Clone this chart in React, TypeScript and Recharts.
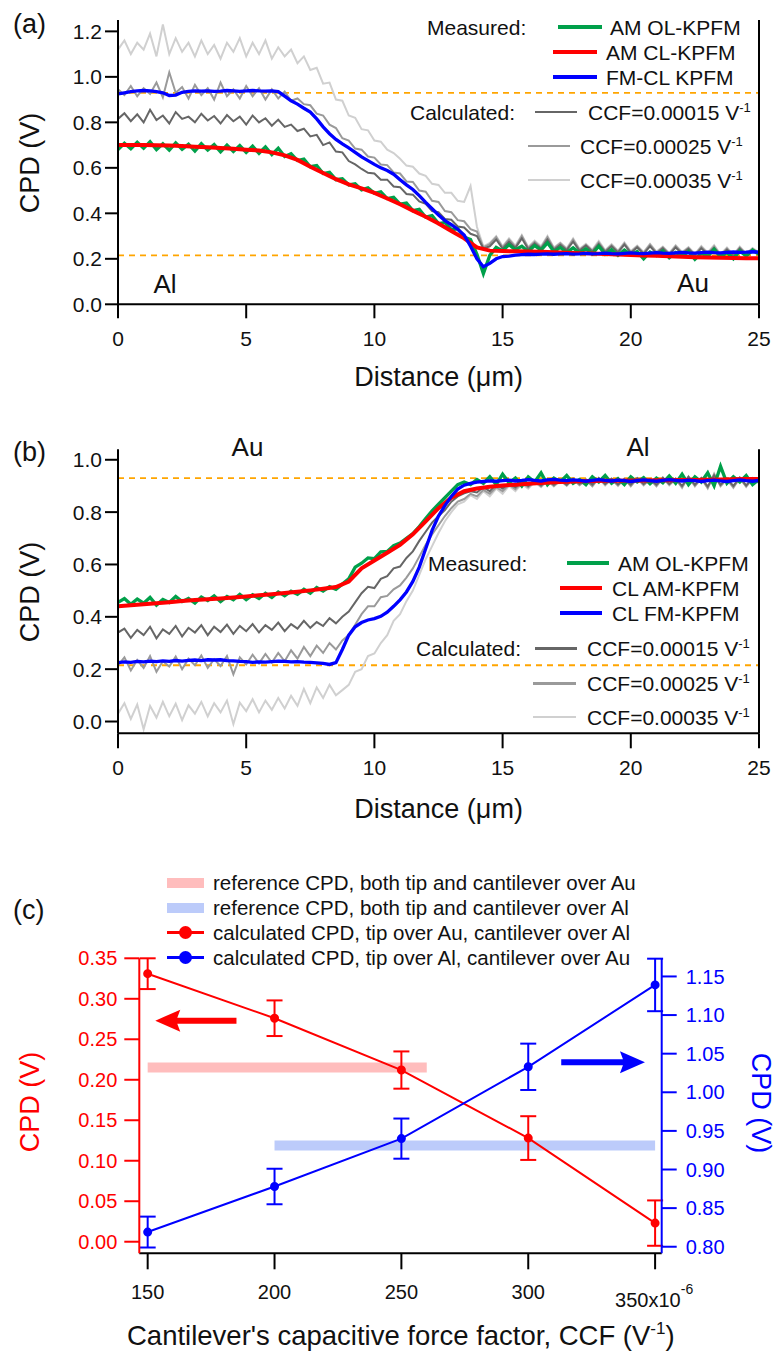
import React from 'react';
import { LineChart, Line, XAxis, YAxis, ReferenceLine, ErrorBar } from 'recharts';

const FONT = '"Liberation Sans", Arial, Helvetica, sans-serif';
const INK = '#111111';

const C_GREEN = '#00A04A';
const C_RED = '#FF0000';
const C_BLUE = '#0000FF';
const C_CCF15 = '#666666';
const C_CCF25 = '#9A9A9A';
const C_CCF35 = '#D0D0D0';
const C_REF = '#FFA500';
const C_BAND_AU = '#FFBDBD';
const C_BAND_AL = '#BCCBFA';

// ---- panels (a) and (b): CPD line profiles, sampled every 0.25 um (red every 0.5 um)
const DIST_TICKS = [0, 5, 10, 15, 20, 25];
const REF_LEVELS = [0.93, 0.215];

const A_GREEN = [
  0.680, 0.708, 0.684, 0.712, 0.686, 0.715, 0.680, 0.706, 0.678, 0.710, 0.682, 0.704,
  0.674, 0.706, 0.678, 0.702, 0.670, 0.700, 0.672, 0.698, 0.668, 0.695, 0.664, 0.692,
  0.658, 0.686, 0.650, 0.662, 0.632, 0.638, 0.605, 0.610, 0.575, 0.580, 0.548, 0.552,
  0.525, 0.530, 0.503, 0.512, 0.488, 0.495, 0.465, 0.470, 0.440, 0.445, 0.412, 0.418,
  0.383, 0.390, 0.355, 0.360, 0.328, 0.332, 0.296, 0.285, 0.220, 0.135, 0.215, 0.250,
  0.235, 0.262, 0.240, 0.255, 0.232, 0.258, 0.238, 0.270, 0.232, 0.250, 0.228, 0.248,
  0.226, 0.244, 0.222, 0.255, 0.220, 0.240, 0.215, 0.238, 0.218, 0.232, 0.200, 0.230,
  0.214, 0.235, 0.205, 0.228, 0.212, 0.232, 0.198, 0.225, 0.210, 0.242, 0.208, 0.228,
  0.200, 0.235, 0.212, 0.238, 0.220,
];
const A_CCF15 = [
  0.815, 0.840, 0.805, 0.835, 0.800, 0.855, 0.810, 0.830, 0.795, 0.845, 0.815, 0.825,
  0.800, 0.838, 0.808, 0.828, 0.795, 0.832, 0.805, 0.825, 0.790, 0.830, 0.800, 0.818,
  0.785, 0.812, 0.780, 0.790, 0.762, 0.772, 0.738, 0.745, 0.700, 0.712, 0.672, 0.668,
  0.630, 0.615, 0.595, 0.578, 0.575, 0.548, 0.548, 0.518, 0.515, 0.485, 0.482, 0.452,
  0.442, 0.410, 0.405, 0.375, 0.372, 0.342, 0.338, 0.310, 0.300, 0.245, 0.255, 0.285,
  0.245, 0.275, 0.248, 0.290, 0.242, 0.268, 0.245, 0.285, 0.240, 0.262, 0.238, 0.275,
  0.235, 0.258, 0.232, 0.265, 0.230, 0.255, 0.228, 0.262, 0.226, 0.250, 0.222, 0.255,
  0.224, 0.246, 0.218, 0.250, 0.222, 0.244, 0.216, 0.246, 0.220, 0.248, 0.214, 0.240,
  0.212, 0.245, 0.218, 0.240, 0.222,
];
const A_CCF25 = [
  0.945, 0.920, 0.960, 0.915, 0.950, 0.925, 0.975, 0.910, 1.020, 0.930, 0.955, 0.905,
  0.965, 0.920, 0.950, 0.900, 0.975, 0.915, 0.945, 0.905, 0.960, 0.915, 0.950, 0.900,
  0.945, 0.905, 0.935, 0.895, 0.905, 0.880, 0.875, 0.838, 0.830, 0.790, 0.775, 0.730,
  0.720, 0.685, 0.680, 0.650, 0.645, 0.615, 0.612, 0.580, 0.575, 0.540, 0.538, 0.500,
  0.495, 0.455, 0.450, 0.410, 0.405, 0.370, 0.365, 0.330, 0.320, 0.250, 0.265, 0.295,
  0.250, 0.285, 0.252, 0.300, 0.248, 0.275, 0.250, 0.295, 0.245, 0.268, 0.242, 0.285,
  0.240, 0.262, 0.236, 0.272, 0.234, 0.260, 0.232, 0.268, 0.230, 0.255, 0.226, 0.262,
  0.228, 0.250, 0.222, 0.256, 0.226, 0.248, 0.218, 0.252, 0.224, 0.255, 0.216, 0.246,
  0.215, 0.250, 0.220, 0.244, 0.225,
];
const A_CCF35 = [
  1.12, 1.16, 1.10, 1.15, 1.12, 1.19, 1.09, 1.23, 1.10, 1.17, 1.11, 1.15,
  1.09, 1.16, 1.10, 1.14, 1.08, 1.15, 1.11, 1.17, 1.09, 1.15, 1.10, 1.16,
  1.08, 1.13, 1.09, 1.12, 1.06, 1.09, 1.03, 1.04, 0.97, 0.975, 0.90, 0.895,
  0.83, 0.82, 0.77, 0.765, 0.72, 0.715, 0.68, 0.665, 0.64, 0.61, 0.605, 0.575,
  0.565, 0.53, 0.525, 0.49, 0.49, 0.455, 0.45, 0.52, 0.34, 0.255, 0.27, 0.30,
  0.255, 0.29, 0.258, 0.305, 0.252, 0.28, 0.255, 0.30, 0.25, 0.272, 0.246, 0.29,
  0.244, 0.266, 0.24, 0.278, 0.238, 0.264, 0.236, 0.272, 0.234, 0.258, 0.23, 0.266,
  0.232, 0.254, 0.226, 0.26, 0.23, 0.252, 0.222, 0.256, 0.228, 0.26, 0.22, 0.25,
  0.218, 0.254, 0.224, 0.248, 0.228,
];
const A_BLUE = [
  0.925, 0.930, 0.935, 0.938, 0.940, 0.938, 0.935, 0.930, 0.918, 0.920, 0.932, 0.936,
  0.938, 0.937, 0.938, 0.936, 0.937, 0.940, 0.938, 0.936, 0.938, 0.940, 0.938, 0.937,
  0.938, 0.935, 0.915, 0.895, 0.880, 0.862, 0.845, 0.815, 0.780, 0.750, 0.725, 0.705,
  0.688, 0.668, 0.648, 0.632, 0.615, 0.600, 0.588, 0.572, 0.548, 0.525, 0.505, 0.478,
  0.448, 0.420, 0.393, 0.368, 0.350, 0.330, 0.305, 0.255, 0.200, 0.165, 0.180, 0.200,
  0.210, 0.212, 0.216, 0.218, 0.220, 0.219, 0.221, 0.222, 0.220, 0.222, 0.223, 0.221,
  0.222, 0.224, 0.222, 0.223, 0.225, 0.223, 0.222, 0.224, 0.226, 0.224, 0.223, 0.225,
  0.227, 0.225, 0.224, 0.226, 0.228, 0.226, 0.225, 0.227, 0.229, 0.227, 0.226, 0.228,
  0.230, 0.228, 0.229, 0.231, 0.229,
];
const A_RED = [
  0.700, 0.700, 0.700, 0.699, 0.698, 0.696, 0.693, 0.690, 0.687, 0.684,
  0.680, 0.676, 0.668, 0.655, 0.635, 0.605, 0.577, 0.550, 0.527, 0.510,
  0.490, 0.465, 0.440, 0.412, 0.385, 0.355, 0.322, 0.290, 0.250, 0.236,
  0.234, 0.233, 0.232, 0.231, 0.229, 0.227, 0.225, 0.223, 0.221, 0.219,
  0.217, 0.215, 0.213, 0.211, 0.209, 0.207, 0.206, 0.205, 0.204, 0.203,
  0.202,
];

const B_GREEN = [
  0.455, 0.470, 0.448, 0.468, 0.452, 0.474, 0.445, 0.466, 0.455, 0.478, 0.458, 0.470,
  0.452, 0.476, 0.462, 0.480, 0.458, 0.478, 0.465, 0.486, 0.466, 0.484, 0.470, 0.490,
  0.474, 0.495, 0.480, 0.498, 0.486, 0.505, 0.490, 0.512, 0.498, 0.515, 0.505, 0.525,
  0.545, 0.590, 0.605, 0.625, 0.622, 0.648, 0.650, 0.672, 0.682, 0.700, 0.718, 0.745,
  0.775, 0.805, 0.830, 0.855, 0.880, 0.905, 0.915, 0.905, 0.925, 0.910, 0.935, 0.905,
  0.945, 0.912, 0.930, 0.900, 0.935, 0.915, 0.950, 0.905, 0.930, 0.915, 0.940, 0.910,
  0.925, 0.905, 0.935, 0.915, 0.940, 0.910, 0.928, 0.905, 0.935, 0.915, 0.932, 0.908,
  0.930, 0.912, 0.938, 0.910, 0.945, 0.905, 0.935, 0.915, 0.950, 0.900, 0.975, 0.910,
  0.935, 0.915, 0.940, 0.905, 0.925,
];
const B_CCF15 = [
  0.340, 0.355, 0.320, 0.350, 0.330, 0.362, 0.318, 0.352, 0.335, 0.365, 0.325, 0.358,
  0.340, 0.368, 0.330, 0.362, 0.342, 0.370, 0.335, 0.365, 0.345, 0.372, 0.340, 0.368,
  0.350, 0.378, 0.345, 0.372, 0.355, 0.385, 0.358, 0.380, 0.365, 0.395, 0.375, 0.400,
  0.420, 0.455, 0.490, 0.515, 0.510, 0.545, 0.555, 0.585, 0.592, 0.625, 0.650, 0.690,
  0.725, 0.760, 0.785, 0.808, 0.840, 0.860, 0.872, 0.880, 0.875, 0.895, 0.880, 0.905,
  0.890, 0.910, 0.895, 0.918, 0.900, 0.920, 0.902, 0.925, 0.905, 0.922, 0.905, 0.928,
  0.908, 0.925, 0.905, 0.930, 0.908, 0.928, 0.906, 0.925, 0.905, 0.930, 0.908, 0.926,
  0.905, 0.932, 0.908, 0.928, 0.900, 0.935, 0.905, 0.930, 0.898, 0.940, 0.905, 0.928,
  0.900, 0.932, 0.902, 0.930, 0.915,
];
const B_CCF25 = [
  0.215, 0.245, 0.195, 0.235, 0.205, 0.250, 0.190, 0.230, 0.210, 0.248, 0.200, 0.240,
  0.215, 0.252, 0.205, 0.238, 0.212, 0.250, 0.180, 0.245, 0.218, 0.255, 0.222, 0.258,
  0.225, 0.262, 0.230, 0.272, 0.240, 0.285, 0.250, 0.290, 0.262, 0.300, 0.275, 0.310,
  0.330, 0.370, 0.410, 0.440, 0.440, 0.475, 0.480, 0.505, 0.520, 0.550, 0.585, 0.630,
  0.675, 0.715, 0.750, 0.785, 0.815, 0.840, 0.850, 0.870, 0.860, 0.885, 0.870, 0.895,
  0.880, 0.905, 0.888, 0.912, 0.895, 0.918, 0.898, 0.922, 0.900, 0.920, 0.902, 0.926,
  0.904, 0.922, 0.900, 0.930, 0.905, 0.925, 0.902, 0.928, 0.900, 0.928, 0.904, 0.925,
  0.900, 0.930, 0.905, 0.926, 0.895, 0.935, 0.900, 0.928, 0.892, 0.945, 0.900, 0.925,
  0.895, 0.930, 0.898, 0.928, 0.912,
];
const B_CCF35 = [
  0.030, 0.070, 0.010, 0.065, -0.030, 0.060, 0.015, 0.075, 0.020, 0.068, 0.005, 0.062,
  0.030, 0.075, 0.020, 0.070, 0.035, 0.080, -0.010, 0.072, 0.040, 0.085, 0.035, 0.080,
  0.045, 0.090, 0.050, 0.098, 0.060, 0.125, 0.070, 0.130, 0.090, 0.140, 0.100, 0.120,
  0.140, 0.190, 0.200, 0.250, 0.260, 0.300, 0.330, 0.385, 0.410, 0.460, 0.500, 0.560,
  0.620, 0.670, 0.720, 0.765, 0.800, 0.830, 0.840, 0.865, 0.850, 0.880, 0.860, 0.890,
  0.870, 0.900, 0.880, 0.908, 0.890, 0.915, 0.895, 0.920, 0.898, 0.922, 0.900, 0.926,
  0.902, 0.924, 0.898, 0.930, 0.902, 0.926, 0.900, 0.928, 0.898, 0.930, 0.902, 0.926,
  0.898, 0.932, 0.902, 0.928, 0.892, 0.936, 0.898, 0.930, 0.890, 0.948, 0.898, 0.926,
  0.892, 0.932, 0.896, 0.930, 0.910,
];
const B_BLUE = [
  0.225, 0.228, 0.226, 0.230, 0.228, 0.231, 0.229, 0.232, 0.230, 0.233, 0.231, 0.234,
  0.235, 0.233, 0.236, 0.235, 0.236, 0.233, 0.232, 0.230, 0.229, 0.226, 0.228, 0.227,
  0.229, 0.231, 0.230, 0.228, 0.229, 0.227, 0.226, 0.224, 0.222, 0.218, 0.225, 0.275,
  0.330, 0.362, 0.378, 0.388, 0.393, 0.402, 0.418, 0.440, 0.465, 0.495, 0.535, 0.590,
  0.660, 0.730, 0.785, 0.825, 0.860, 0.888, 0.903, 0.910, 0.915, 0.917, 0.919, 0.918,
  0.920, 0.922, 0.919, 0.921, 0.924, 0.921, 0.919, 0.923, 0.925, 0.922, 0.920, 0.923,
  0.921, 0.918, 0.921, 0.924, 0.921, 0.919, 0.922, 0.920, 0.917, 0.920, 0.923, 0.920,
  0.918, 0.921, 0.924, 0.921, 0.919, 0.922, 0.920, 0.917, 0.920, 0.922, 0.919, 0.917,
  0.920, 0.923, 0.920, 0.918, 0.921,
];
const B_RED = [
  0.440, 0.444, 0.448, 0.452, 0.456, 0.460, 0.464, 0.467, 0.470, 0.474,
  0.478, 0.482, 0.486, 0.491, 0.496, 0.501, 0.507, 0.514, 0.535, 0.585,
  0.615, 0.645, 0.675, 0.715, 0.765, 0.815, 0.855, 0.880, 0.890, 0.897,
  0.902, 0.905, 0.908, 0.911, 0.914, 0.916, 0.918, 0.919, 0.920, 0.920,
  0.921, 0.921, 0.922, 0.922, 0.923, 0.923, 0.924, 0.925, 0.926, 0.927,
  0.927,
];

// ---- panel (c): CPD vs capacitive force factor
const CCF = [150, 200, 250, 300, 350];
const CPD_TIP_AU = [0.331, 0.276, 0.212, 0.128, 0.023];
const CPD_TIP_AU_ERR = [0.019, 0.022, 0.023, 0.027, 0.028];
const CPD_TIP_AL = [0.819, 0.878, 0.940, 1.033, 1.139];
const CPD_TIP_AL_ERR = [0.020, 0.023, 0.026, 0.030, 0.034];
const REF_AU_SPAN = [150, 260];
const REF_AU_CPD = 0.215;
const REF_AL_SPAN = [200, 350];
const REF_AL_CPD = 0.931;
const ARROW_AU = { from: 185, to: 153, cpd: 0.273 };
const ARROW_AL = { from: 313, to: 346, cpd: 1.039 };
const LEFT_TICKS = [0, 0.05, 0.1, 0.15, 0.2, 0.25, 0.3, 0.35];
const RIGHT_TICKS = [0.8, 0.85, 0.9, 0.95, 1.0, 1.05, 1.1, 1.15];

const DIST_FINE = A_GREEN.map((_, i) => i * 0.25);
const DIST_COARSE = A_RED.map((_, i) => i * 0.5);

const rowsA = DIST_FINE.map((d, i) => ({
  d, green: A_GREEN[i], ccf15: A_CCF15[i], ccf25: A_CCF25[i], ccf35: A_CCF35[i], blue: A_BLUE[i],
}));
const redA = DIST_COARSE.map((d, i) => ({ d, red: A_RED[i] }));
const rowsB = DIST_FINE.map((d, i) => ({
  d, green: B_GREEN[i], ccf15: B_CCF15[i], ccf25: B_CCF25[i], ccf35: B_CCF35[i], blue: B_BLUE[i],
}));
const redB = DIST_COARSE.map((d, i) => ({ d, red: B_RED[i] }));

const calcRows = CCF.map((ccf, i) => ({
  ccf, au: CPD_TIP_AU[i], auErr: CPD_TIP_AU_ERR[i], al: CPD_TIP_AL[i], alErr: CPD_TIP_AL_ERR[i],
}));
const refAu = REF_AU_SPAN.map((ccf) => ({ ccf, cpd: REF_AU_CPD }));
const refAl = REF_AL_SPAN.map((ccf) => ({ ccf, cpd: REF_AL_CPD }));

const axisStroke = { stroke: '#000', strokeWidth: 2 };

function T({ x, y, size = 21, color = INK, align = 'left', rotate = 0, children }: any) {
  const tx = align === 'left' ? '0' : align === 'center' ? '-50%' : '-100%';
  return (
    <div
      style={{
        position: 'absolute', left: x, top: y, fontFamily: FONT, fontSize: size, lineHeight: 1,
        color, whiteSpace: 'nowrap',
        transform: `translate(${tx}, -50%)${rotate ? ` rotate(${rotate}deg)` : ''}`,
      }}
    >
      {children}
    </div>
  );
}

const Sup = ({ children }: any) => (
  <span style={{ fontSize: '0.62em', position: 'relative', top: '-0.62em' }}>{children}</span>
);

const Swatch = ({ x1, x2, y, t, color }: any) => (
  <div style={{ position: 'absolute', left: x1, top: y - t / 2, width: x2 - x1, height: t, background: color }} />
);

function ProfileChart({ top, height, plotTop, plotBottom, domain, ticks, rows, reds, tickSize, tickMargin }: any) {
  const tickStyle = { fill: INK, fontSize: 21, fontFamily: FONT };
  return (
    <div style={{ position: 'absolute', left: 0, top }}>
      <LineChart width={774} height={height} margin={{ top: plotTop - top, right: 0, bottom: 0, left: 0 }}>
        <XAxis
          type="number" dataKey="d" domain={[0, 25]} ticks={DIST_TICKS} interval={0} allowDataOverflow
          height={top + height - plotBottom} tickSize={tickSize} tickMargin={tickMargin}
          axisLine={axisStroke} tickLine={axisStroke} tick={tickStyle}
        />
        <YAxis
          yAxisId="l" width={118} domain={domain} ticks={ticks} interval={0} allowDataOverflow
          tickFormatter={(v: number) => v.toFixed(1)} tickSize={13} tickMargin={3}
          axisLine={axisStroke} tickLine={axisStroke} tick={tickStyle}
        />
        <YAxis
          yAxisId="r" orientation="right" width={15} domain={domain} ticks={ticks} interval={0} allowDataOverflow
          tickSize={14} axisLine={axisStroke} tickLine={axisStroke} tick={false}
        />
        {REF_LEVELS.map((v) => (
          <ReferenceLine key={v} yAxisId="l" y={v} stroke={C_REF} strokeDasharray="6 5" strokeWidth={1.8} />
        ))}
        <Line data={rows} yAxisId="l" dataKey="ccf35" stroke={C_CCF35} strokeWidth={2} dot={false} isAnimationActive={false} />
        <Line data={rows} yAxisId="l" dataKey="ccf25" stroke={C_CCF25} strokeWidth={2} dot={false} isAnimationActive={false} />
        <Line data={rows} yAxisId="l" dataKey="ccf15" stroke={C_CCF15} strokeWidth={2} dot={false} isAnimationActive={false} />
        <Line data={rows} yAxisId="l" dataKey="green" stroke={C_GREEN} strokeWidth={3.3} dot={false} isAnimationActive={false} />
        <Line data={reds} yAxisId="l" dataKey="red" stroke={C_RED} strokeWidth={4} dot={false} isAnimationActive={false} />
        <Line data={rows} yAxisId="l" dataKey="blue" stroke={C_BLUE} strokeWidth={3.3} dot={false} isAnimationActive={false} />
      </LineChart>
    </div>
  );
}

const arrowShape = (color: string) => (p: any) => {
  const { x1, y1, x2 } = p;
  if (x1 == null || x2 == null) return null;
  const dir = x2 > x1 ? 1 : -1;
  const xb = x2 - dir * 22;
  const y = y1;
  const d = `M${x1},${y - 3} L${xb},${y - 3} L${xb - dir * 3},${y - 11} L${x2},${y} L${xb - dir * 3},${y + 11} L${xb},${y + 3} L${x1},${y + 3} Z`;
  return <path d={d} fill={color} stroke="none" />;
};

const CcfTick = (props: any) => {
  const { x, y, payload } = props;
  const common = { fill: INK, fontSize: 20, fontFamily: FONT };
  if (payload.value === 350) {
    return (
      <text x={x - 40} y={y + 8} dy="0.71em" textAnchor="start" {...common}>
        350x10<tspan fontSize={14} dy={-13}>-6</tspan>
      </text>
    );
  }
  return (
    <text x={x} y={y} dy="0.71em" textAnchor="middle" {...common}>
      {payload.value}
    </text>
  );
};

function CcfChart() {
  const redTick = { fill: C_RED, fontSize: 20, fontFamily: FONT };
  const blueTick = { fill: C_BLUE, fontSize: 20, fontFamily: FONT };
  return (
    <div style={{ position: 'absolute', left: 0, top: 800 }}>
      <LineChart width={774} height={551} margin={{ top: 158.3, right: 0, bottom: 0, left: 0 }}>
        <XAxis
          type="number" dataKey="ccf" domain={[146.7, 352.6]} ticks={CCF} interval={0} allowDataOverflow
          height={97.7} tickSize={16} tickMargin={15} axisLine={axisStroke} tickLine={axisStroke} tick={<CcfTick />}
        />
        <YAxis
          yAxisId="l" width={139.3} domain={[-0.0143, 0.35]} ticks={LEFT_TICKS} interval={0} allowDataOverflow
          tickFormatter={(v: number) => v.toFixed(2)} tickSize={15} tickMargin={7}
          axisLine={{ stroke: C_RED, strokeWidth: 2 }} tickLine={{ stroke: C_RED, strokeWidth: 2 }} tick={redTick}
        />
        <YAxis
          yAxisId="r" orientation="right" width={112.3} domain={[0.7915, 1.1735]} ticks={RIGHT_TICKS} interval={0}
          allowDataOverflow tickFormatter={(v: number) => v.toFixed(2)} tickSize={15} tickMargin={9}
          axisLine={{ stroke: C_BLUE, strokeWidth: 2 }} tickLine={{ stroke: C_BLUE, strokeWidth: 2 }} tick={blueTick}
        />
        <Line data={refAu} yAxisId="l" dataKey="cpd" stroke={C_BAND_AU} strokeWidth={10} strokeLinecap="butt" dot={false} isAnimationActive={false} />
        <Line data={refAl} yAxisId="r" dataKey="cpd" stroke={C_BAND_AL} strokeWidth={10} strokeLinecap="butt" dot={false} isAnimationActive={false} />
        <ReferenceLine
          yAxisId="l"
          segment={[{ x: ARROW_AU.from, y: ARROW_AU.cpd }, { x: ARROW_AU.to, y: ARROW_AU.cpd }]}
          shape={arrowShape(C_RED)}
        />
        <ReferenceLine
          yAxisId="r"
          segment={[{ x: ARROW_AL.from, y: ARROW_AL.cpd }, { x: ARROW_AL.to, y: ARROW_AL.cpd }]}
          shape={arrowShape(C_BLUE)}
        />
        <Line
          data={calcRows} yAxisId="l" dataKey="au" stroke={C_RED} strokeWidth={2}
          dot={{ r: 3.5, fill: C_RED, stroke: C_RED }} isAnimationActive={false}
        >
          <ErrorBar dataKey="auErr" direction="y" width={8} stroke={C_RED} strokeWidth={2} />
        </Line>
        <Line
          data={calcRows} yAxisId="r" dataKey="al" stroke={C_BLUE} strokeWidth={2}
          dot={{ r: 3.5, fill: C_BLUE, stroke: C_BLUE }} isAnimationActive={false}
        >
          <ErrorBar dataKey="alErr" direction="y" width={8} stroke={C_BLUE} strokeWidth={2} />
        </Line>
      </LineChart>
    </div>
  );
}

const Dot = ({ x, y, color }: any) => (
  <div style={{ position: 'absolute', left: x - 6.5, top: y - 6.5, width: 13, height: 13, borderRadius: '50%', background: color }} />
);

export default function App() {
  return (
    <div style={{ position: 'absolute', left: 0, top: 0, width: 774, height: 1351, background: '#fff', overflow: 'hidden' }}>
      <ProfileChart top={0} height={420} plotTop={20} plotBottom={304.3} domain={[0, 1.25]}
        ticks={[0, 0.2, 0.4, 0.6, 0.8, 1.0, 1.2]} rows={rowsA} reds={redA} tickSize={14} tickMargin={13} />
      <ProfileChart top={420} height={380} plotTop={449.3} plotBottom={733.3} domain={[-0.045, 1.04]}
        ticks={[0, 0.2, 0.4, 0.6, 0.8, 1.0]} rows={rowsB} reds={redB} tickSize={15} tickMargin={12} />
      <CcfChart />

      {/* panel (a) text */}
      <T x={13} y={24} size={27}>(a)</T>
      <T x={30} y={162.5} size={27} align="center" rotate={-90}>CPD (V)</T>
      <T x={438.6} y={377} size={27} align="center">Distance (μm)</T>
      <T x={165} y={284} size={26} align="center">Al</T>
      <T x={693} y={283} size={26} align="center">Au</T>
      <T x={427} y={27}>Measured:</T>
      <Swatch x1={558} x2={602} y={27} t={4} color={C_GREEN} />
      <T x={610} y={27}>AM OL-KPFM</T>
      <Swatch x1={553} x2={597} y={52} t={4} color={C_RED} />
      <T x={606} y={52}>AM CL-KPFM</T>
      <Swatch x1={553} x2={597} y={77} t={4} color={C_BLUE} />
      <T x={606} y={77}>FM-CL KPFM</T>
      <T x={410} y={112}>Calculated:</T>
      <Swatch x1={535} x2={577} y={112} t={2.5} color={C_CCF15} />
      <T x={588} y={112}>CCF=0.00015 V<Sup>-1</Sup></T>
      <Swatch x1={528} x2={570} y={146} t={2.5} color={C_CCF25} />
      <T x={580} y={146}>CCF=0.00025 V<Sup>-1</Sup></T>
      <Swatch x1={528} x2={570} y={180} t={2.5} color={C_CCF35} />
      <T x={580} y={180}>CCF=0.00035 V<Sup>-1</Sup></T>

      {/* panel (b) text */}
      <T x={13} y={452} size={27}>(b)</T>
      <T x={30} y={591.7} size={27} align="center" rotate={-90}>CPD (V)</T>
      <T x={438.6} y={809} size={27} align="center">Distance (μm)</T>
      <T x={247.5} y={446.7} size={26} align="center">Au</T>
      <T x={638} y={446.7} size={26} align="center">Al</T>
      <T x={428} y={563}>Measured:</T>
      <Swatch x1={567} x2={609} y={563} t={4} color={C_GREEN} />
      <T x={618} y={563}>AM OL-KPFM</T>
      <Swatch x1={560} x2={602} y={588.3} t={4} color={C_RED} />
      <T x={612} y={588.3}>CL AM-KPFM</T>
      <Swatch x1={560} x2={602} y={613.3} t={4} color={C_BLUE} />
      <T x={612} y={613.3}>CL FM-KPFM</T>
      <T x={416} y={648.3}>Calculated:</T>
      <Swatch x1={535} x2={577} y={648.3} t={2.5} color={C_CCF15} />
      <T x={587} y={648.3}>CCF=0.00015 V<Sup>-1</Sup></T>
      <Swatch x1={533} x2={576} y={683.3} t={2.5} color={C_CCF25} />
      <T x={587} y={683.3}>CCF=0.00025 V<Sup>-1</Sup></T>
      <Swatch x1={533} x2={576} y={717} t={2.5} color={C_CCF35} />
      <T x={587} y={717}>CCF=0.00035 V<Sup>-1</Sup></T>

      {/* panel (c) text */}
      <T x={13} y={910} size={27}>(c)</T>
      <T x={30} y={1101.7} size={27} align="center" rotate={-90} color={C_RED}>CPD (V)</T>
      <T x={760} y={1102.5} size={27} align="center" rotate={90} color={C_BLUE}>CPD (V)</T>
      <T x={127} y={1335.5} size={27.5}>Cantilever's capacitive force factor, CCF (V<Sup>-1</Sup>)</T>
      <Swatch x1={167} x2={204} y={883.3} t={10} color={C_BAND_AU} />
      <T x={213} y={883.3} size={20.5}>reference CPD, both tip and cantilever over Au</T>
      <Swatch x1={167} x2={204} y={907.7} t={10} color={C_BAND_AL} />
      <T x={213} y={907.7} size={20.5}>reference CPD, both tip and cantilever over Al</T>
      <Swatch x1={167} x2={204} y={932.7} t={2.5} color={C_RED} />
      <Dot x={185} y={932.7} color={C_RED} />
      <T x={213} y={932.7} size={20.5}>calculated CPD, tip over Au, cantilever over Al</T>
      <Swatch x1={167} x2={204} y={957.7} t={2.5} color={C_BLUE} />
      <Dot x={185} y={957.7} color={C_BLUE} />
      <T x={213} y={957.7} size={20.5}>calculated CPD, tip over Al, cantilever over Au</T>
    </div>
  );
}
